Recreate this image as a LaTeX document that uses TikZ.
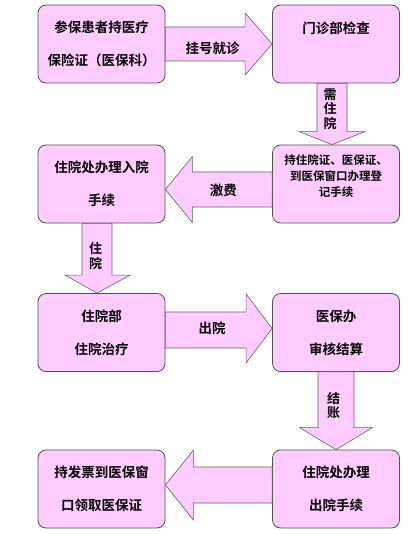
\documentclass[tikz,border=0pt]{standalone}
\usepackage{fontspec}
\setmainfont{Noto Sans CJK SC}[BoldFont={Noto Sans CJK SC Bold}]
\usepackage{tikz}
\usetikzlibrary{positioning,calc}
\definecolor{boxpink}{RGB}{255,204,255}
\definecolor{edgegray}{RGB}{80,80,80}

\begin{document}
\begin{tikzpicture}[
  x=1pt,y=-1pt,
  font=\bfseries\fontsize{13.5}{33}\selectfont,
  box/.style={draw=edgegray,line width=0.8pt,rounded corners=8pt,fill=boxpink,
              align=center,minimum width=127pt,minimum height=78pt,inner sep=0pt},
  barrow/.style={draw=edgegray!90,line width=0.6pt,fill=boxpink},
  tag/.style={inner sep=0pt},
  vtag/.style={inner sep=0pt,align=center,font=\bfseries\fontsize{13}{14.5}\selectfont}
]
\useasboundingbox (0,0) rectangle (407,534);

\node[box] (card) at (101.5,44) {参保患者持医疗\\保险证（医保科）};
\node[box] (clinic) at (336,44) {门诊部检查\\\mbox{}};
\node[box,font=\bfseries\fontsize{11.5}{16}\selectfont] (register) at (336,184)
 {持住院证、医保证、\\到医保窗口办理登\\记手续\\\mbox{}};
\node[box] (admit) at (101.5,184) {住院处办理入院\\手续};
\node[box] (ward) at (101.5,332.5) {住院部\\住院治疗};
\node[box] (office) at (336,332.5) {医保办\\审核结算};
\node[box] (discharge) at (336,489) {住院处办理\\出院手续};
\node[box] (refund) at (101.5,489) {持发票到医保窗\\口领取医保证};

% block arrows between the boxes
\draw[barrow] ([yshift=17pt]card.east) -- ([xshift=-27pt,yshift=17pt]clinic.west)
 -- ([xshift=-27pt,yshift=31pt]clinic.west) -- (clinic.west)
 -- ([xshift=-27pt,yshift=-31pt]clinic.west) -- ([xshift=-27pt,yshift=-17pt]clinic.west)
 -- ([yshift=-17pt]card.east) -- cycle;
\draw[barrow] ([xshift=-19pt]clinic.south) -- ([xshift=-19pt,yshift=13pt]register.north)
 -- ([xshift=-37pt,yshift=13pt]register.north) -- ([xshift=-4pt]register.north)
 -- ([xshift=29pt,yshift=13pt]register.north) -- ([xshift=11pt,yshift=13pt]register.north)
 -- ([xshift=11pt]clinic.south) -- cycle;
\draw[barrow] ([yshift=12pt]register.west) -- ([xshift=27pt,yshift=12pt]admit.east)
 -- ([xshift=27pt,yshift=27.5pt]admit.east) -- ([yshift=-5.5pt]admit.east)
 -- ([xshift=27pt,yshift=-38.5pt]admit.east) -- ([xshift=27pt,yshift=-23pt]admit.east)
 -- ([yshift=-23pt]register.west) -- cycle;
\draw[barrow] ([xshift=-19.5pt]admit.south) -- ([xshift=-19.5pt,yshift=18pt]ward.north)
 -- ([xshift=-36.5pt,yshift=18pt]ward.north) -- ([xshift=-4.5pt]ward.north)
 -- ([xshift=28.5pt,yshift=18pt]ward.north) -- ([xshift=10.5pt,yshift=18pt]ward.north)
 -- ([xshift=10.5pt]admit.south) -- cycle;
\draw[barrow] ([yshift=20.5pt]ward.east) -- ([xshift=-26pt,yshift=20.5pt]office.west)
 -- ([xshift=-26pt,yshift=38.5pt]office.west) -- ([yshift=4pt]office.west)
 -- ([xshift=-26pt,yshift=-30.5pt]office.west) -- ([xshift=-26pt,yshift=-15.5pt]office.west)
 -- ([yshift=-15.5pt]ward.east) -- cycle;
\draw[barrow] ([xshift=-18pt]office.south) -- ([xshift=-18pt,yshift=22pt]discharge.north)
 -- ([xshift=-36.5pt,yshift=22pt]discharge.north) -- (discharge.north)
 -- ([xshift=36.5pt,yshift=22pt]discharge.north) -- ([xshift=18pt,yshift=22pt]discharge.north)
 -- ([xshift=18pt]office.south) -- cycle;
\draw[barrow] ([yshift=22pt]discharge.west) -- ([xshift=28pt,yshift=22pt]refund.east)
 -- ([xshift=28pt,yshift=39pt]refund.east) -- ([yshift=4pt]refund.east)
 -- ([xshift=28pt,yshift=-31pt]refund.east) -- ([xshift=28pt,yshift=-14pt]refund.east)
 -- ([yshift=-14pt]discharge.west) -- cycle;

% arrow labels
\node[tag,right=20pt of card,yshift=-4pt] (reg) {挂号就诊};
\node[vtag,below=5pt of clinic,xshift=-6pt] (need) {需\\住\\院};
\node[tag,left=35pt of register,yshift=-6pt] (pay) {激费};
\node[vtag,below=19pt of admit,xshift=-6pt] (stay) {住\\院};
\node[tag,right=33pt of ward,yshift=4pt] (out) {出院};
\node[vtag,below=20pt of office,xshift=-2.5pt] (settle) {结\\账};
\end{tikzpicture}
\end{document}
